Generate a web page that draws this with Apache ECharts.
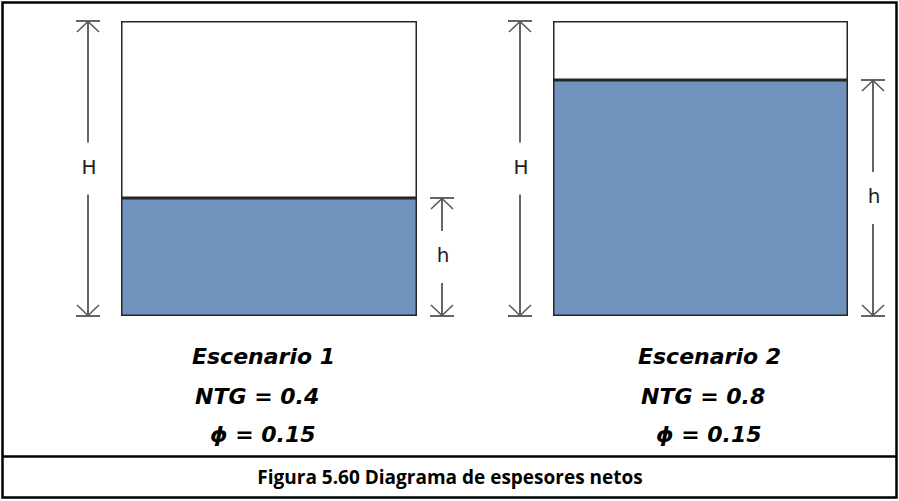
<!DOCTYPE html>
<html><head><meta charset="utf-8">
<script src="https://cdn.jsdelivr.net/npm/echarts@6/dist/echarts.min.js"></script>
<style>html,body{margin:0;padding:0;background:#fff}#c{width:899px;height:501px}</style>
</head><body><div id="c"></div>
<script>
// ---- data ----
const scenarios = ['Escenario 1', 'Escenario 2'];
const ntg = [0.4, 0.8];
const porosity = [0.15, 0.15];
const grossThickness = [1, 1];
const dimLabels = ['H', 'h'];
const captionText = 'Figura 5.60 Diagrama de espesores netos';

// ---- styling ----
const BLUE = '#7093be';
const EDGE = '#262626';
const textFont = 'italic bold 22px "DejaVu Sans"';

const chart = echarts.init(document.getElementById('c'), null, {renderer: 'svg'});

function dimItem(params, api) {
  const y0 = api.value(1), y1 = api.value(2);
  const p0 = api.coord([api.value(0), y0]);
  const p1 = api.coord([api.value(0), y1]);
  const band = api.size([1, 0])[0];
  const isLeft = params.dataIndex === 0;
  const x = isLeft ? p0[0] - band / 2 - 33 : p0[0] + band / 2 + 25;
  const top = p1[1], bot = p0[1];
  const mid = (top + bot) / 2;
  const gap = 26, cap = 12, ah = 11, aw = 11;
  const ls = {stroke: '#111', lineWidth: 1.3};
  const hs = {stroke: '#555', lineWidth: 1.5, fill: null};
  return {
    type: 'group',
    children: [
      {type: 'line', shape: {x1: x - cap, y1: top, x2: x + cap, y2: top}, style: ls},
      {type: 'line', shape: {x1: x - cap, y1: bot, x2: x + cap, y2: bot}, style: ls},
      {type: 'line', shape: {x1: x, y1: top, x2: x, y2: mid - gap}, style: ls},
      {type: 'line', shape: {x1: x, y1: mid + gap, x2: x, y2: bot}, style: ls},
      {type: 'polyline', shape: {points: [[x - aw, top + ah], [x, top + 0.5], [x + aw, top + ah]]}, style: hs},
      {type: 'polyline', shape: {points: [[x - aw, bot - ah], [x, bot - 0.5], [x + aw, bot - ah]]}, style: hs},
      {type: 'text', style: {text: dimLabels[params.dataIndex], x: x + 1, y: mid - 2,
        align: 'center', verticalAlign: 'middle', textAlign: 'center', textVerticalAlign: 'middle',
        font: '20px "DejaVu Sans"', fill: '#222'}}
    ]
  };
}

const grids = [
  {left: 121, top: 21, width: 296, height: 295},
  {left: 553, top: 21, width: 295, height: 295}
];
const xAxes = [], yAxes = [], series = [];
scenarios.forEach((name, i) => {
  xAxes.push({gridIndex: i, type: 'category', data: [name], show: false});
  yAxes.push({gridIndex: i, type: 'value', min: 0, max: 1, show: false});
  series.push({
    type: 'bar', xAxisIndex: i, yAxisIndex: i, stack: 's' + i, barWidth: '100%',
    data: [ntg[i]], silent: true,
    itemStyle: {color: BLUE, borderColor: EDGE, borderWidth: 1.5}
  });
  series.push({
    type: 'bar', xAxisIndex: i, yAxisIndex: i, stack: 's' + i, barWidth: '100%',
    data: [grossThickness[i] - ntg[i]], silent: true,
    itemStyle: {color: '#ffffff', borderColor: EDGE, borderWidth: 1.5}
  });
  series.push({
    type: 'custom', xAxisIndex: i, yAxisIndex: i, silent: true, clip: false,
    renderItem: dimItem,
    data: [[0, 0, grossThickness[i]], [0, 0, ntg[i]]]
  });
});

const textX = [[192, 195, 210], [638, 641, 656]];
const textY = [356, 396, 434];
const graphics = [
  {type: 'rect', shape: {x: 2.5, y: 2.5, width: 894, height: 495}, style: {fill: null, stroke: '#000', lineWidth: 2.5}, silent: true},
  {type: 'line', shape: {x1: 2, y1: 456.5, x2: 897, y2: 456.5}, style: {stroke: '#000', lineWidth: 2.5}, silent: true},
  {type: 'text', x: 450, y: 477, style: {text: captionText, font: 'bold 19px "Open Sans"', fill: '#000',
    align: 'center', verticalAlign: 'middle', textAlign: 'center', textVerticalAlign: 'middle'}}
];
scenarios.forEach((name, i) => {
  const lines = [name, 'NTG = ' + ntg[i], 'ϕ = ' + porosity[i]];
  lines.forEach((t, k) => {
    graphics.push({type: 'text', x: textX[i][k], y: textY[k], style: {text: t, font: textFont, fill: '#000',
      align: 'left', verticalAlign: 'middle', textAlign: 'left', textVerticalAlign: 'middle'}});
  });
});

chart.setOption({
  animation: false,
  backgroundColor: '#fff',
  grid: grids,
  xAxis: xAxes,
  yAxis: yAxes,
  series: series,
  graphic: graphics
});
</script>
</body></html>
